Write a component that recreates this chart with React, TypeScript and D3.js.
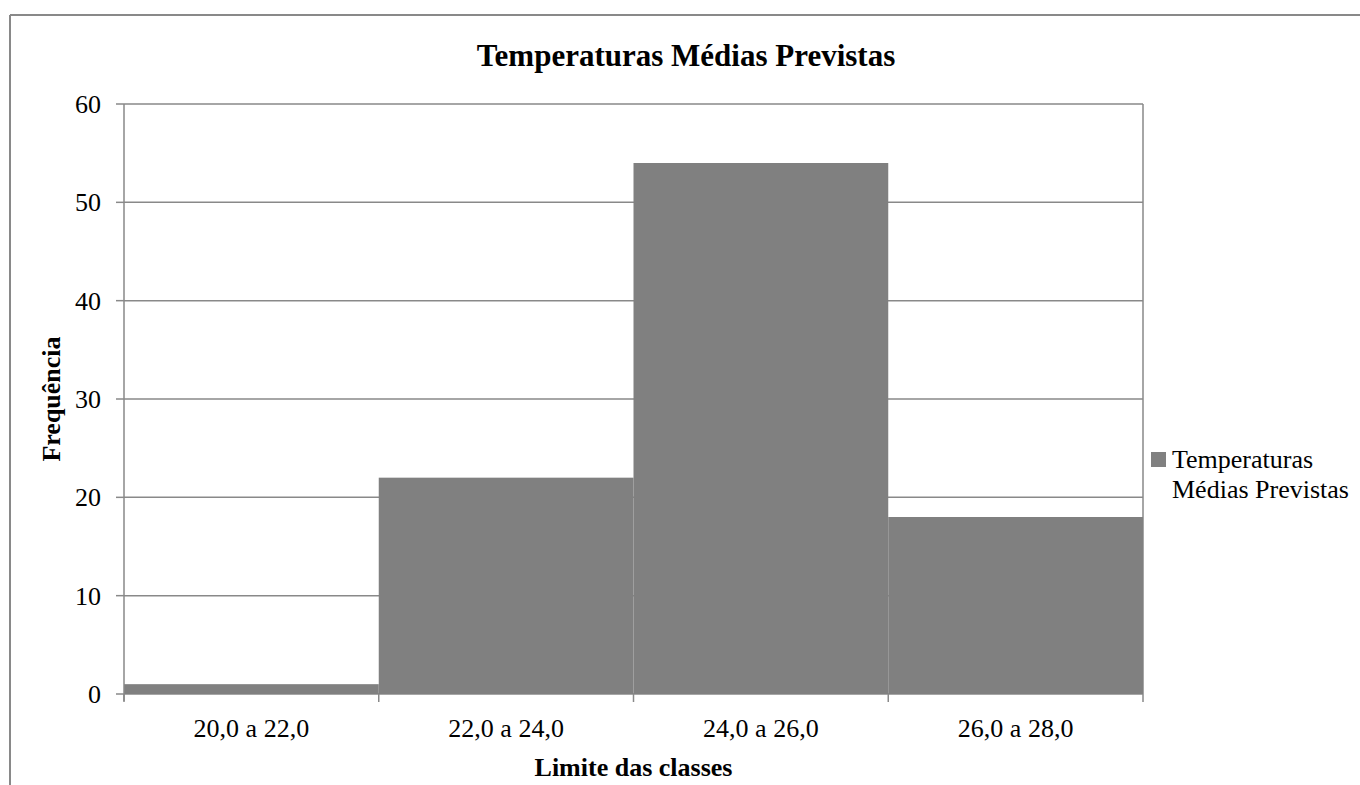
import React from "react";
import * as d3 from "d3";

const categories = ["20,0 a 22,0", "22,0 a 24,0", "24,0 a 26,0", "26,0 a 28,0"];
const values = [1, 22, 54, 18];
const yTicks = [0, 10, 20, 30, 40, 50, 60];
const title = "Temperaturas Médias Previstas";
const xTitle = "Limite das classes";
const yTitle = "Frequência";
const legendLines = ["Temperaturas", "Médias Previstas"];

const W = 1360;
const H = 785;
const plot = { left: 124, right: 1143, top: 104, bottom: 694 };
const font = "Liberation Serif, Times New Roman, serif";
const gridColor = "#898989";
const barColor = "#808080";

export default function App() {
  const x = d3.scaleBand<string>().domain(categories).range([plot.left, plot.right]).padding(0);
  const y = d3.scaleLinear().domain([0, 60]).range([plot.bottom, plot.top]);
  const boundaries = [...categories.map((c) => x(c) as number), plot.right];

  return (
    <svg
      width={W}
      height={H}
      style={{ position: "absolute", left: 0, top: 0, background: "#fff", fontFamily: font }}
    >
      <rect x={0} y={0} width={W} height={H} fill="#fff" />
      <line x1={10} y1={15} x2={W} y2={15} stroke={gridColor} strokeWidth={2} />
      <line x1={10} y1={15} x2={10} y2={H} stroke={gridColor} strokeWidth={2} />

      <text x={686} y={66} textAnchor="middle" fontSize={31} fontWeight="bold" fill="#000">
        {title}
      </text>

      {yTicks.map((t) => (
        <line key={"g" + t} x1={plot.left} x2={plot.right} y1={y(t)} y2={y(t)} stroke={gridColor} strokeWidth={1.5} />
      ))}
      <line x1={plot.right} x2={plot.right} y1={plot.top} y2={plot.bottom} stroke={gridColor} strokeWidth={1.5} />

      {categories.map((c, i) => (
        <rect
          key={c}
          x={x(c) as number}
          y={y(values[i])}
          width={x.bandwidth()}
          height={y(0) - y(values[i])}
          fill={barColor}
        />
      ))}

      <line x1={plot.left} x2={plot.left} y1={plot.top} y2={plot.bottom + 7} stroke={gridColor} strokeWidth={1.5} />
      {yTicks.map((t) => (
        <g key={"yt" + t}>
          <line x1={plot.left - 8} x2={plot.left} y1={y(t)} y2={y(t)} stroke={gridColor} strokeWidth={1.5} />
          <text x={101} y={y(t)} dy="0.35em" textAnchor="end" fontSize={26} fill="#000">
            {t}
          </text>
        </g>
      ))}

      {boundaries.map((b, i) => (
        <line key={"xt" + i} x1={b} x2={b} y1={plot.bottom} y2={plot.bottom + 8} stroke={gridColor} strokeWidth={1.5} />
      ))}
      {categories.map((c) => (
        <text
          key={"xl" + c}
          x={(x(c) as number) + x.bandwidth() / 2}
          y={737}
          textAnchor="middle"
          fontSize={26}
          fill="#000"
        >
          {c}
        </text>
      ))}

      <text x={(plot.left + plot.right) / 2} y={776} textAnchor="middle" fontSize={26} fontWeight="bold" fill="#000">
        {xTitle}
      </text>
      <text
        transform={`translate(60, ${(plot.top + plot.bottom) / 2}) rotate(-90)`}
        textAnchor="middle"
        fontSize={26}
        fontWeight="bold"
        fill="#000"
      >
        {yTitle}
      </text>

      <rect x={1151} y={452} width={15} height={15} fill={barColor} />
      {legendLines.map((l, i) => (
        <text key={l} x={1172} y={468 + i * 30} fontSize={26} fill="#000">
          {l}
        </text>
      ))}
    </svg>
  );
}
